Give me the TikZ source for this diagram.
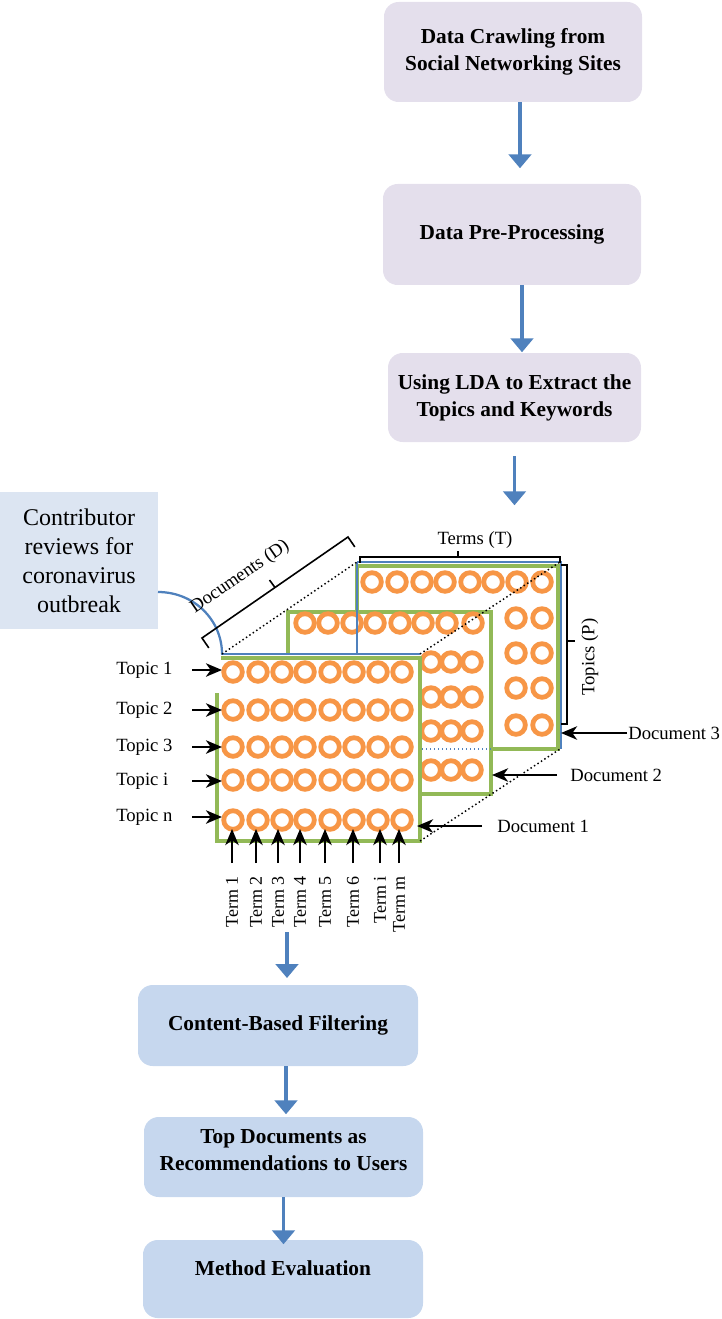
\documentclass[tikz,border=0pt]{standalone}
\usepackage{fontspec}
\setmainfont{Liberation Serif}
\usetikzlibrary{arrows.meta,calc}
\definecolor{lav}{HTML}{E4DFEC}
\definecolor{lblue}{HTML}{C6D7EE}
\definecolor{cblue}{HTML}{DCE5F2}
\definecolor{mgreen}{HTML}{92B957}
\definecolor{morange}{HTML}{F79646}
\definecolor{mblue}{HTML}{4F81BD}
\begin{document}
\begin{tikzpicture}[x=0.75pt,y=-0.75pt,
  fbox/.style={rounded corners=11pt, inner sep=0pt, align=center,
    font=\fontsize{16}{20.25}\selectfont\bfseries},
  topbox/.style={fbox, fill=lav},
  botbox/.style={fbox, fill=lblue},
  btxt/.style={inner sep=0pt, align=center, font=\fontsize{16}{20.25}\selectfont\bfseries},
  cbox/.style={fill=cblue, inner sep=0pt, align=center, minimum width=118.5pt,
    minimum height=102.75pt, font=\fontsize{18}{21.75}\selectfont},
  lbl/.style={inner sep=0pt, font=\fontsize{14}{16}\selectfont},
  tlbl/.style={inner sep=0pt, font=\fontsize{13.5}{16}\selectfont},
  barrow/.style={draw=mblue, line width=2.3pt, -{Triangle[length=10.5pt,width=17pt]}},
  karrow/.style={draw=black, line width=1.9pt, -{Stealth[length=12pt,width=10pt,inset=3.5pt]}},
  gframe/.style={draw=mgreen, line width=3.7pt},
  bline/.style={draw=mblue, line width=1pt},
  dline/.style={draw=black, line width=1.1pt, dotted},
  brk/.style={draw=black, line width=1.2pt},
  ring/.style={draw=morange, line width=3.6pt}
]
\useasboundingbox (0,0) rectangle (721,1319);

% ---- flow boxes (top)
\node[topbox, minimum width=193.5pt, minimum height=75pt] (b1) at (513,52)
  {Data Crawling from\\Social Networking Sites};
\node[topbox, minimum width=193.5pt, minimum height=75.75pt] (b2) at (512,234.5)
  {Data Pre-Processing};
\node[topbox, minimum width=189.75pt, minimum height=66.75pt] (b3) at (514.5,397.5)
  {Using LDA to Extract the\\Topics and Keywords};

\draw[barrow] ([xshift=5.25pt]b1.south) -- ++(0,66);
\draw[barrow] ([xshift=7.5pt]b2.south) -- ++(0,67);
\draw[barrow] ([yshift=-10.5pt]b3.south) -- ++(0,49);

% ---- contributor box and arc
\node[cbox] (cr) at (79,560.5) {Contributor\\reviews for\\coronavirus\\outbreak};
\coordinate (arcS) at (158,592);
\coordinate (arcE) at (222,654);
\draw[draw=mblue, line width=1.7pt] (arcS) .. controls (194,592) and (222,620) .. (arcE);

% ---- document 3
\fill[white] (357,566) rectangle (558,749);
\draw[gframe] (357,612) -- (357,566) -- (558,566) -- (558,749) -- (491,749);
\foreach \x in {372,397,422,445,470,493,517,542} \draw[ring] (\x,582) circle[radius=9.3];
\foreach \y in {618,653,688,725} {
  \draw[ring] (516,\y) circle[radius=9.3];
  \draw[ring] (542,\y) circle[radius=9.3];
}
% ---- document 2
\fill[white] (288,612) rectangle (491,794);
\draw[gframe] (288,655) -- (288,612) -- (491,612) -- (491,794) -- (420,794);
\foreach \x in {305,328,352,375,400,423,447,473} \draw[ring] (\x,623) circle[radius=9.3];
\foreach \y in {662,697,731,770} {
  \draw[ring] (431,\y) circle[radius=9.3];
  \draw[ring] (451,\y) circle[radius=9.3];
  \draw[ring] (472,\y) circle[radius=9.3];
}
% ---- document 1
\fill[white] (217,658) rectangle (420,841);
\draw[gframe] (217,693) -- (217,841) -- (420,841) -- (420,658) -- (221,658);
\foreach \y in {672,710,747,780,820} {
  \foreach \x in {233,258,282,305,330,354,378,402} \draw[ring] (\x,\y) circle[radius=9.3];
}

% ---- blue edges
\draw[bline] (357,562) -- (561,562) -- (561,749);
\draw[bline] (357,562) -- (357,654);
\draw[bline] (221,654) -- (420,654);
\draw[draw=mblue, line width=1pt, dotted] (422,749) -- (491,749);

% ---- dotted perspective lines
\draw[dline] (arcE) -- (357,562);
\draw[dline] (420,654) -- (560,562);
\draw[dline] (420,841) -- (560,749);

% ---- brackets
\draw[brk] (360,563) -- (360,557) -- (560,557) -- (560,563);
\draw[brk] (458,557) -- (458,551);
\node[lbl] (terms) at (475,540) {Terms (T)};

\draw[brk] (561,565) -- (567,565) -- (567,724) -- (561,724);
\draw[brk] (567,641) -- (575,641);
\node[lbl, rotate=90] (topics) at (590,657) {Topics (P)};

\draw[brk] (208.8,647.9) -- (202,638) -- (348,537) -- (354.8,546.9);
\draw[brk] (275,587.5) -- (269.5,580);
\node[lbl, rotate=34.7] (docs) at (240,577) {Documents (D)};

% ---- topic labels
\foreach \n/\lab/\y in {1/Topic 1/670, 2/Topic 2/710, 3/Topic 3/747, 4/Topic i/781, 5/Topic n/817} {
  \node[lbl, anchor=west] (tp\n) at (116,\y) {\lab};
  \coordinate (tpa\n) at (222,\y);
  \draw[karrow] ([xshift=-22.5pt]tpa\n) -- (tpa\n);
}
% ---- term labels
\foreach \n/\lab/\x in {1/Term 1/232, 2/Term 2/256, 3/Term 3/278, 4/Term 4/300, 5/Term 5/325, 6/Term 6/353, 7/Term i/380, 8/Term m/399} {
  \coordinate (tma\n) at (\x,829);
  \node[tlbl, rotate=90, anchor=east] (tm\n) at (\x,876) {\lab};
  \draw[karrow] ([yshift=-25.5pt]tma\n) -- (tma\n);
}
% ---- document labels
\node[lbl, anchor=west] (d1) at (497,826) {Document 1};
\draw[karrow] ([xshift=-11.25pt]d1.west) -- ++(-65,0);
\node[lbl, anchor=west] (d2) at (570,775) {Document 2};
\draw[karrow] ([xshift=-9.75pt]d2.west) -- ++(-65,0);
\node[lbl, anchor=west] (d3) at (628,733) {Document 3};
\draw[karrow] ([xshift=-0.75pt]d3.west) -- ++(-66,0);

% ---- flow boxes (bottom)
\coordinate (a4s) at (287,932);
\node[botbox, minimum width=210pt, minimum height=60.75pt] (b4) at (278,1025.5)
  {Content-Based Filtering};
\node[botbox, minimum width=209.25pt, minimum height=60pt] (b5) at (283.5,1157) {};
\node[btxt] (b5t) at (283.5,1150) {Top Documents as\\Recommendations to Users};
\node[botbox, minimum width=210pt, minimum height=58.5pt] (b6) at (283,1279) {};
\node[btxt] (b6t) at (283,1268) {Method Evaluation};

\draw[barrow] (a4s) -- ++(0,46);
\draw[barrow] ([xshift=6pt]b4.south) -- ++(0,48);
\draw[barrow] (b5.south) -- ++(0,47);
\end{tikzpicture}
\end{document}
